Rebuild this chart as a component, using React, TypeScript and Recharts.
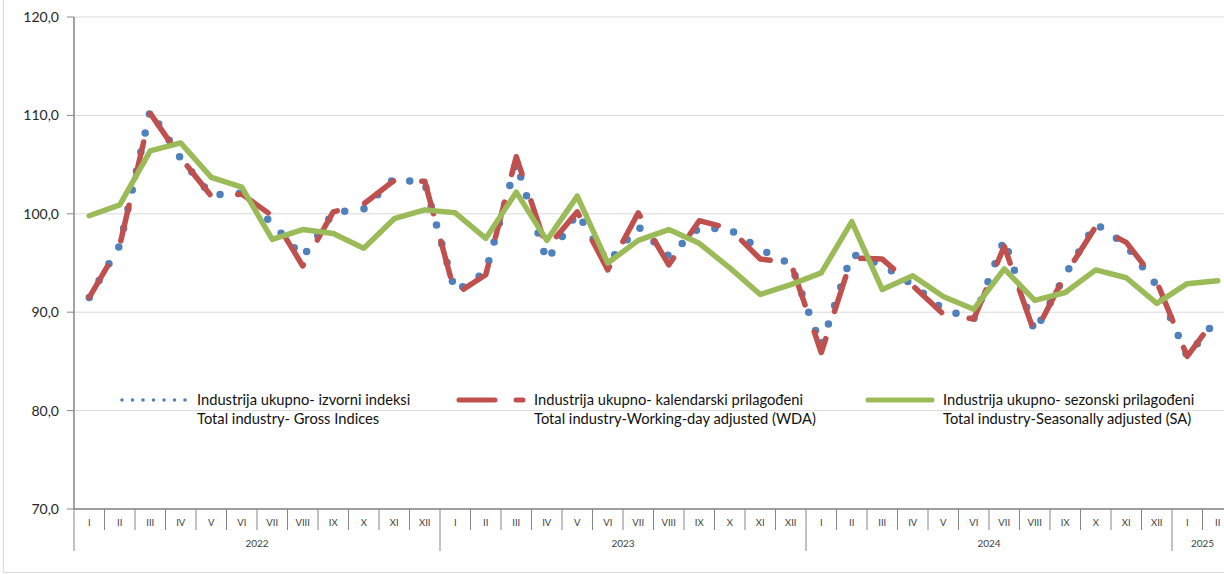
import { LineChart, Line, XAxis, YAxis, CartesianGrid, Legend } from "recharts";

// categories
const years = ["2022", "2023", "2024", "2025"];
const monthsPerYear = [12, 12, 12, 2];
const roman = ["I", "II", "III", "IV", "V", "VI", "VII", "VIII", "IX", "X", "XI", "XII"];

// Industrija ukupno - izvorni indeksi (gross)
const gross = [
  91.5, 96.8, 110.5, 105.6, 101.9, 102.1, 99.0, 95.6, 100.1, 100.5, 103.6, 103.1,
  92.1, 94.1, 105.2, 95.2, 100.1, 95.0, 98.7, 95.7, 98.6, 98.4, 96.4, 94.9,
  86.6, 95.9, 94.8, 92.8, 90.3, 89.3, 97.4, 88.0, 93.8, 99.0, 96.8, 92.7,
  85.5, 89.4,
];

// kalendarski prilagodjeni (WDA)
const wda = [
  91.5, 96.8, 110.2, 105.7, 101.8, 102.0, 99.8, 94.7, 100.2, 101.0, 103.4, 103.3,
  91.8, 93.8, 105.8, 96.5, 100.2, 94.3, 100.1, 94.8, 99.3, 98.5, 95.4, 95.0,
  85.9, 95.5, 95.4, 92.7, 89.8, 89.3, 96.7, 87.8, 93.8, 98.7, 97.1, 93.1,
  85.5, 89.7,
];

// sezonski prilagodjeni (SA)
const sa = [
  99.8, 100.9, 106.4, 107.2, 103.7, 102.7, 97.4, 98.4, 98.0, 96.5, 99.5, 100.4,
  100.1, 97.5, 102.2, 97.3, 101.8, 95.0, 97.3, 98.4, 97.0, 94.5, 91.8, 92.8,
  94.0, 99.2, 92.3, 93.7, 91.6, 90.3, 94.4, 91.2, 92.0, 94.3, 93.5, 90.9,
  92.9, 93.2,
];

const yTicks = [70, 80, 90, 100, 110, 120];

const namesHr = [
  "Industrija ukupno- izvorni indeksi",
  "Industrija ukupno- kalendarski prilagođeni",
  "Industrija ukupno- sezonski prilagođeni",
];
const namesEn = [
  "Total industry- Gross Indices",
  "Total industry-Working-day adjusted (WDA)",
  "Total industry-Seasonally adjusted (SA)",
];

const FONT = "Lato, 'Liberation Sans', sans-serif";
const W = 1240;
const H = 574;
const MARGIN = { top: 17, right: 7, bottom: 5, left: 0 };
const Y_AXIS_W = 74;
const X_AXIS_H = 60;
const AXIS_Y = H - MARGIN.bottom - X_AXIS_H;
const AXIS_GRAY = "#868686";

const categories = years.flatMap((y, yi) =>
  roman.slice(0, monthsPerYear[yi]).map((m, mi) => ({ year: y, month: m, first: mi === 0, count: monthsPerYear[yi] }))
);
const BAND = (W - MARGIN.left - MARGIN.right - Y_AXIS_W) / categories.length;

const data = categories.map((c, i) => ({
  key: `${c.year}-${c.month}`,
  gross: gross[i],
  wda: wda[i],
  sa: sa[i],
}));

const SERIES = [
  { key: "gross", color: "#4F81BD", width: 7.5, dash: "0 19.5", legendDash: "0 10.5", legendWidth: 3.6 },
  { key: "wda", color: "#C0504D", width: 5.5, dash: "36.5 28.5", legendDash: "36 21", legendWidth: 5 },
  { key: "sa", color: "#9BBB59", width: 5.5, dash: undefined, legendDash: undefined, legendWidth: 5 },
];
const LEGEND_LEFT = [120, 457, 866];

function MonthTick(props: any) {
  const { x, payload } = props;
  const i = props.index ?? payload.index;
  const c = categories[i];
  const left = x - BAND / 2;
  const last = i === categories.length - 1;
  return (
    <g>
      <line x1={left} x2={left} y1={AXIS_Y} y2={AXIS_Y + (c.first ? 42 : 21)} stroke={AXIS_GRAY} strokeWidth={1} />
      {last && <line x1={x + BAND / 2} x2={x + BAND / 2} y1={AXIS_Y} y2={AXIS_Y + 42} stroke={AXIS_GRAY} />}
      <text x={x} y={AXIS_Y + 13} textAnchor="middle" dominantBaseline="central" fontSize={9.5} fill="#404040" fontFamily={FONT}>
        {c.month}
      </text>
      {c.first && (
        <text
          x={left + (c.count * BAND) / 2}
          y={AXIS_Y + 34}
          textAnchor="middle"
          dominantBaseline="central"
          fontSize={10}
          fill="#404040"
          fontFamily={FONT}
        >
          {c.year}
        </text>
      )}
    </g>
  );
}

function LegendBox() {
  return (
    <div style={{ position: "relative", width: W, height: H, fontFamily: FONT, fontSize: 14.7, color: "#111" }}>
      {SERIES.map((s, i) => (
        <div key={s.key}>
          <svg style={{ position: "absolute", left: LEGEND_LEFT[i] - 4, top: 390 }} width={78} height={20}>
            <line
              x1={6}
              x2={70}
              y1={10}
              y2={10}
              stroke={s.color}
              strokeWidth={s.legendWidth}
              strokeLinecap="round"
              strokeDasharray={s.legendDash}
            />
          </svg>
          <div style={{ position: "absolute", left: LEGEND_LEFT[i] + 77, top: 390, lineHeight: "19px", whiteSpace: "nowrap" }}>
            <div>{namesHr[i]}</div>
            <div>{namesEn[i]}</div>
          </div>
        </div>
      ))}
    </div>
  );
}

export default function App() {
  return (
    <div style={{ position: "fixed", left: 0, top: 0, width: 1224, height: 574, overflow: "hidden", background: "#fff" }}>
      <div
        style={{
          position: "absolute",
          left: 3,
          top: -5,
          width: 1300,
          height: 578,
          boxSizing: "border-box",
          border: "1px solid #d9d9d9",
        }}
      />
      <LineChart width={W} height={H} data={data} margin={MARGIN}>
        <CartesianGrid vertical={false} stroke="#d9d9d9" strokeWidth={1} />
        <XAxis
          dataKey="key"
          scale="band"
          interval={0}
          height={X_AXIS_H}
          tickLine={false}
          axisLine={{ stroke: AXIS_GRAY, strokeWidth: 1.5 }}
          tick={<MonthTick />}
        />
        <YAxis
          width={Y_AXIS_W}
          domain={[70, 120]}
          ticks={yTicks}
          interval={0}
          tickSize={7}
          tickMargin={8}
          tickFormatter={(v: number) => v.toFixed(1).replace(".", ",")}
          tick={{ fontSize: 14, fill: "#262626", fontFamily: FONT }}
          axisLine={{ stroke: AXIS_GRAY, strokeWidth: 1.5 }}
          tickLine={{ stroke: AXIS_GRAY }}
        />
        {SERIES.map((s) => (
          <Line
            key={s.key}
            type="linear"
            dataKey={s.key}
            stroke={s.color}
            strokeWidth={s.width}
            strokeDasharray={s.dash}
            strokeLinecap="round"
            strokeLinejoin="round"
            dot={false}
            activeDot={false}
            isAnimationActive={false}
          />
        ))}
        <Legend
          layout="horizontal"
          verticalAlign="middle"
          align="center"
          wrapperStyle={{ left: 0, top: 0, width: W, height: H, pointerEvents: "none" }}
          content={() => <LegendBox />}
        />
      </LineChart>
    </div>
  );
}
